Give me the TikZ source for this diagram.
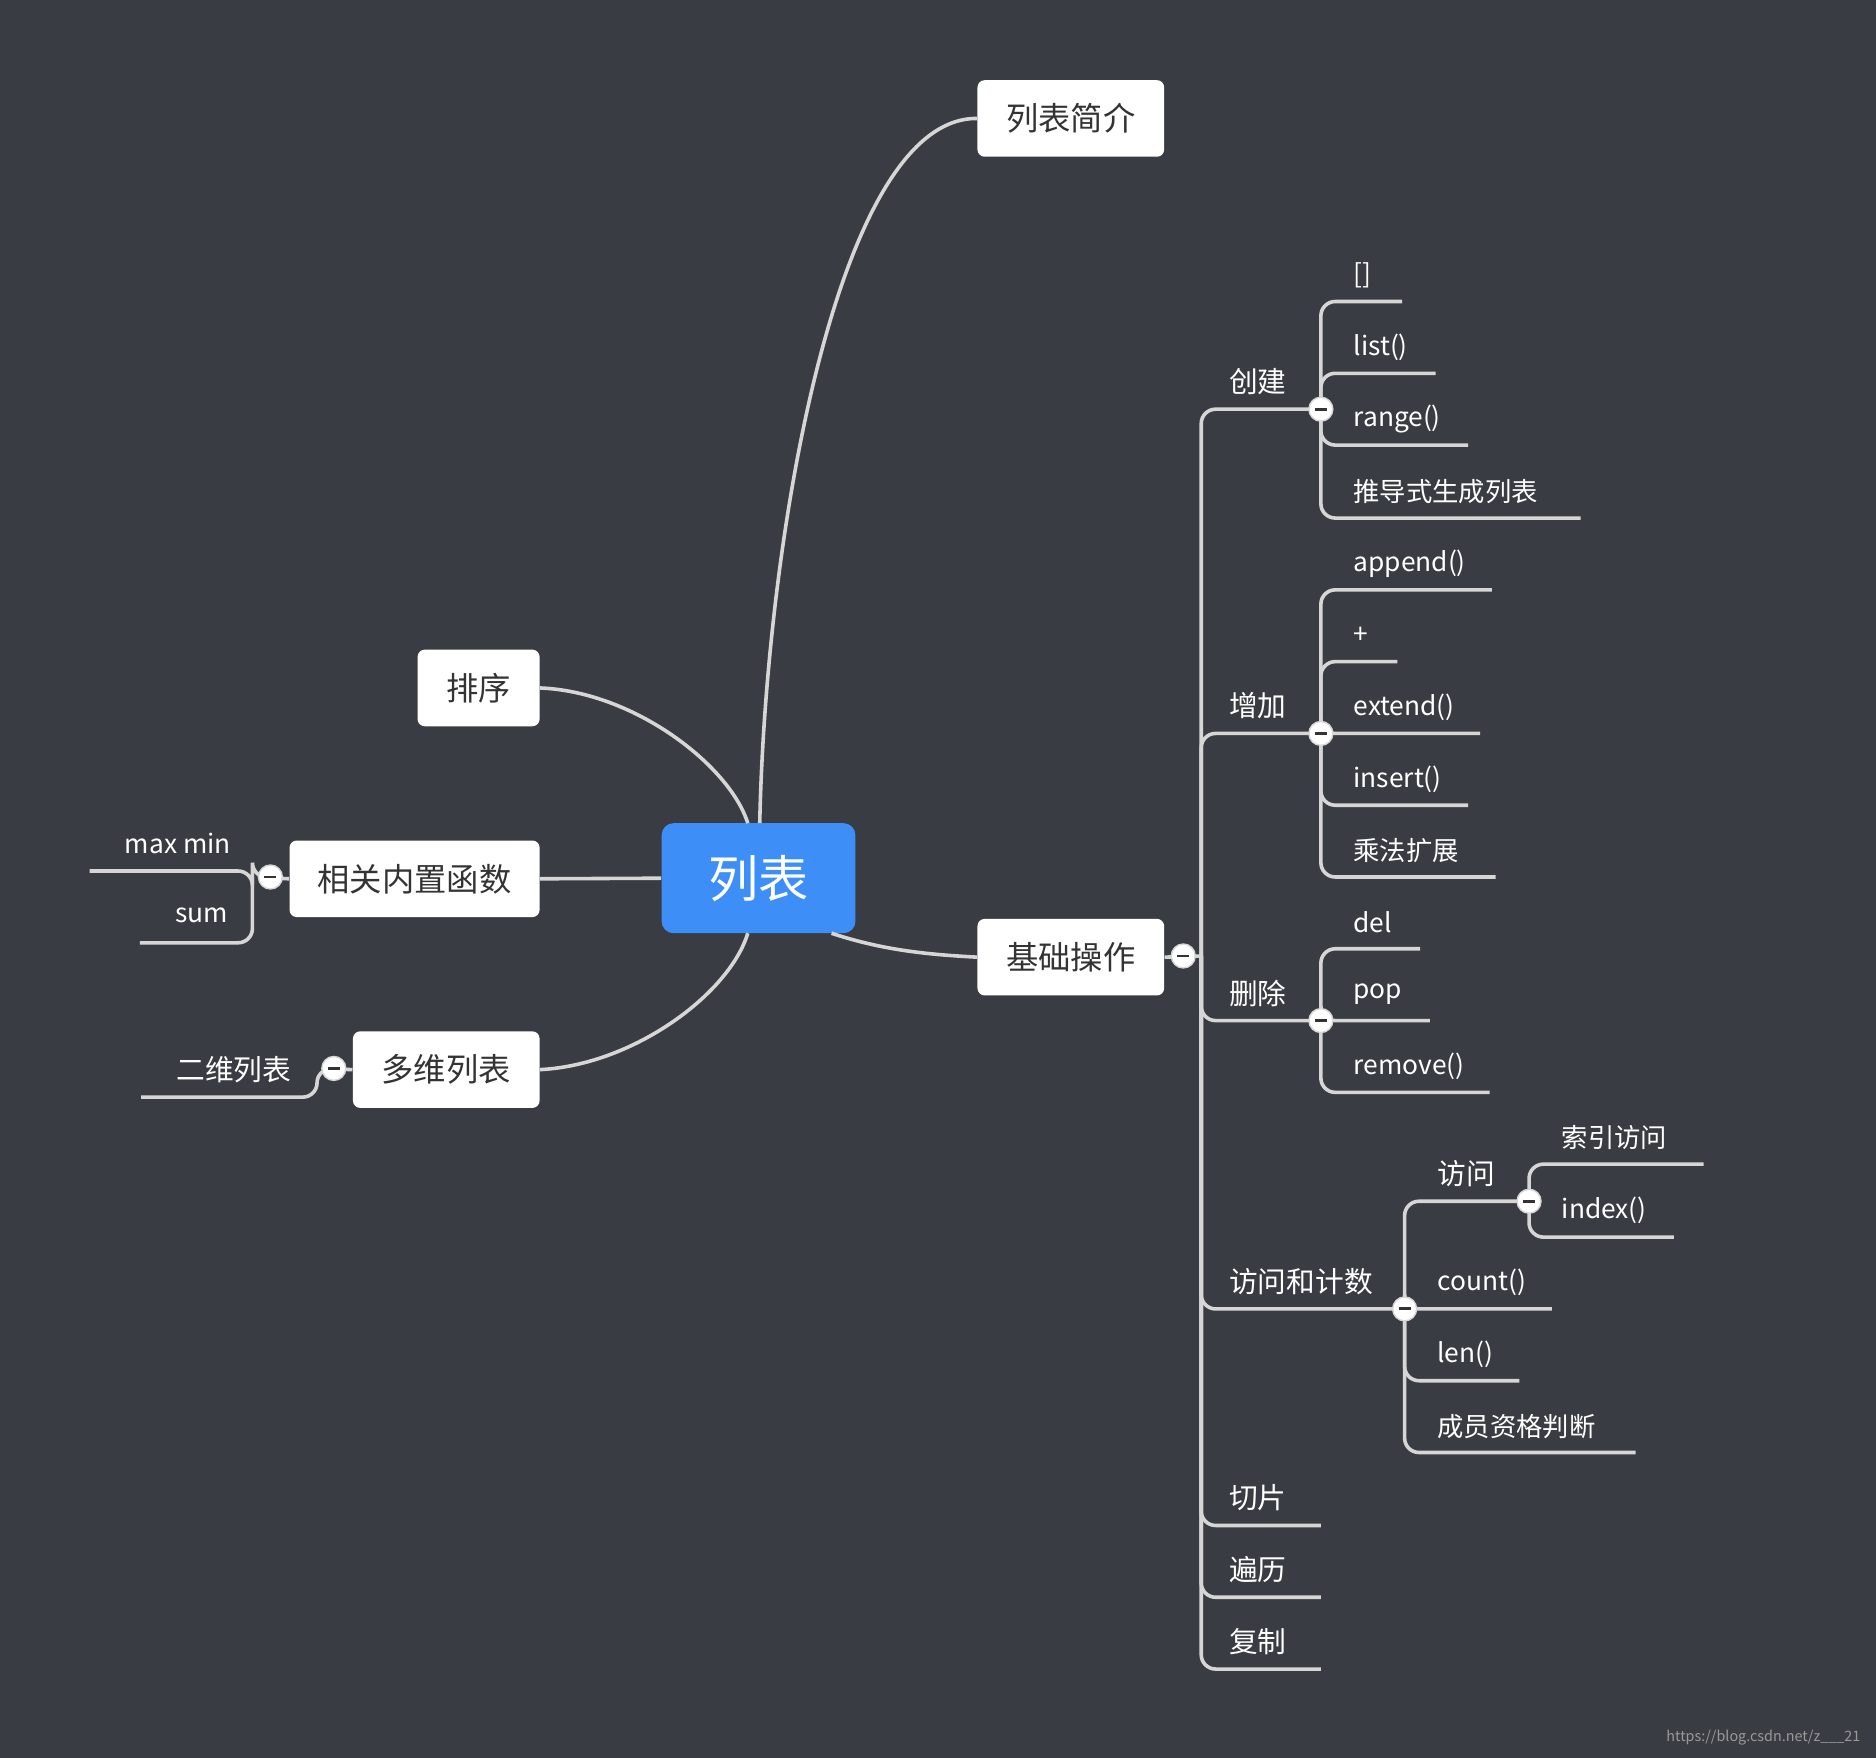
\documentclass[tikz,border=0pt]{standalone}
\usepackage{fontspec}
\setmainfont{Noto Sans CJK SC}
\begin{document}
\begin{tikzpicture}[x=0.5pt,y=-0.5pt,
 ln/.style={draw=lineC,line width=1.5pt,rounded corners=6pt},
 box/.style={fill=white,rounded corners=3pt,text=textD,font=\fontsize{13.5}{16}\selectfont,minimum height=32pt,inner sep=0pt},
 lf/.style={anchor=west,text=white,font=\fontsize{11}{13}\selectfont,inner sep=0pt},
 br/.style={anchor=west,text=white,font=\fontsize{12}{14}\selectfont,inner sep=0pt},
 dot/.style={circle,fill=white,draw=lineC,line width=0.6pt,minimum size=10pt,inner sep=0pt,path picture={\draw[textD,line width=1.2pt](path picture bounding box.west)++(2.5pt,0)--++(5pt,0);}}]
\definecolor{bg}{HTML}{393C42}\definecolor{lineC}{HTML}{D6D6D6}\definecolor{textD}{HTML}{333333}\definecolor{blueC}{HTML}{3D8EF7}
\fill[bg] (0,0) rectangle (1568,1469);
\useasboundingbox (0,0) rectangle (1568,1469);
% main nodes
\node[fill=blueC,rounded corners=5pt,minimum width=81pt,minimum height=46pt,text=white,font=\fontsize{21}{24}\selectfont] (c) at (634,734) {列表};
\node[box,minimum width=78pt] (intro) at (895,99) {列表简介};
\node[box,minimum width=78pt] (base) at (895,800) {基础操作};
\node[box,minimum width=51pt] (sort) at (400,575) {排序};
\node[box,minimum width=104.5pt] (func) at (346.5,734.5) {相关内置函数};
\node[box,minimum width=78pt] (multi) at (373,894) {多维列表};
\draw[ln] (635,688) .. controls (640,450) and (700,98) .. (intro.west);
\draw[ln] (sort.east) .. controls (530,578) and (610,640) .. (625,688);
\draw[ln] (func.east) -- (c.west);
\draw[ln] (multi.east) .. controls (530,890) and (610,830) .. (625,780);
\draw[ln] (695,780) .. controls (740,795) and (780,798) .. (base.west);
% right tree
\coordinate (b0) at (989,799);
\coordinate (t) at (1004,799);
\draw[ln] (base.east) -- (t);
\foreach \y/\n/\xe/\tx in {342/cj/1104/创建,613/zj/1104/增加,853/sc/1104/删除,1094/fw/1174/访问和计数,1275/qp/1104/切片,1335/bl/1104/遍历,1395/fz/1104/复制}{
 \coordinate (\n) at (\xe,\y);
 \draw[ln] (t) |- (\n);
 \node[br] at (1027,\y-23) {\tx};
}
\foreach \p/\px/\py/\lx/\list in {cj/1104/342/1131/{252/1172/[],312/1200/list(),372/1227/range(),433/1321/推导式生成列表},
 zj/1104/613/1131/{493/1247/append(),553/1168/+,613/1237/extend(),673/1227/insert(),733/1250/乘法扩展},
 sc/1104/853/1131/{793/1187/del,853/1195/pop,913/1245/remove()},
 fw/1174/1094/1201/{1004/1278/{},1094/1297/count(),1154/1270/len(),1214/1367/成员资格判断},
 fa/1278/1004/1305/{973/1424/索引访问,1034/1399/index()}}{
 \foreach \y/\xe/\tx in \list {
  \coordinate (e) at (\xe,\y);
  \draw[ln] (\px,\py) |- (e);
  \node[lf] at (\lx,\y-22) {\tx};
 }
}
\node[br] at (1201,981) {访问};
\foreach \x/\y in {1104/342,1104/613,1104/853,1278/1004,1174/1094} \node[dot] at (\x,\y) {};
\node[dot] at (b0) {};
% left
\coordinate (mm) at (75,728); \coordinate (sm) at (117,788);
\draw[ln] (func.west) -- (211,733) |- (mm);
\draw[ln] (211,733) |- (sm);
\node[lf] at (104,705) {max min};
\node[lf] at (146,765) {sum};
\node[dot] at (226,733) {};
\coordinate (ew) at (118,917);
\draw[ln] (multi.west) -- (265,893) |- (ew);
\node[br] at (147,894) {二维列表};
\node[dot] at (279,893) {};
\node[anchor=east,text=gray!80,font=\fontsize{6}{8}\selectfont] at (1562,1452) {https://blog.csdn.net/z\_\_\_21};
\end{tikzpicture}
\end{document}
